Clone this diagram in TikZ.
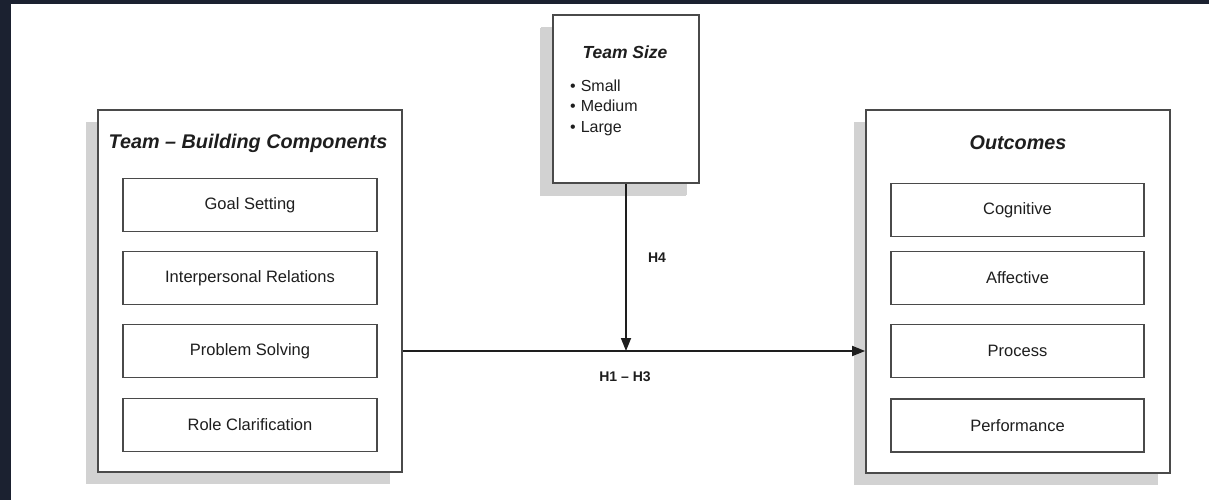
\documentclass[tikz,border=0pt]{standalone}
\usepackage{fontspec}
\setmainfont{Liberation Sans}
\usetikzlibrary{arrows.meta,shadows}
\definecolor{frame}{HTML}{1B2130}
\definecolor{shade}{HTML}{D2D2D2}
\definecolor{edge}{HTML}{4A4A4A}
\definecolor{ink}{HTML}{1E1E1E}
\begin{document}
\begin{tikzpicture}[x=1pt,y=-1pt,
  panel/.style={draw=edge, line width=1.7pt, fill=white, inner sep=0pt,
    drop shadow={shadow xshift=-12pt, shadow yshift=-12pt, fill=shade, opacity=1}},
  itembox/.style={draw=edge, line width=1.6pt, fill=white, inner sep=0pt,
    minimum width=254pt, minimum height=53pt, text=ink,
    font=\fontsize{16.5}{20}\selectfont},
  paneltitle/.style={text=ink, inner sep=0pt, font=\bfseries\itshape\fontsize{19.8}{24}\selectfont},
  bulletitem/.style={anchor=base west, inner sep=0pt, text=ink, font=\fontsize{16}{20}\selectfont},
  conn/.style={draw=ink, line width=1.7pt, -{Triangle[length=13pt,width=10pt]}},
  hlab/.style={text=ink, inner sep=0pt, font=\bfseries\fontsize{14}{16}\selectfont}]
\useasboundingbox (0,0) rectangle (1209,500);
\fill[white] (0,0) rectangle (1209,500);
\fill[frame] (0,0) rectangle (1209,4);
\fill[frame] (0,0) rectangle (11,500);

% left panel
\node[panel, minimum width=304pt, minimum height=362pt] (L) at (250,291) {};
\node[paneltitle] (Lt) at (248,143) {Team – Building Components};
\node[itembox] (gs) at (250,205) {Goal Setting};
\node[itembox] (ir) at (250,278) {Interpersonal Relations};
\node[itembox] (ps) at (250,351) {Problem Solving};
\node[itembox] (rc) at (250,425) {Role Clarification};

% right panel
\node[panel, minimum width=304pt, minimum height=363pt] (R) at (1018,291.5) {};
\node[paneltitle] (Rt) at (1018,143) {Outcomes};
\node[itembox, minimum width=253pt] (cg) at (1017.5,210) {Cognitive};
\node[itembox, minimum width=253pt] (af) at (1017.5,278) {Affective};
\node[itembox, minimum width=253pt] (pr) at (1017.5,351) {Process};
\node[itembox, minimum width=253pt] (pf) at (1017.5,425.5) {Performance};

% team size
\node[panel, minimum width=146pt, minimum height=168pt,
  drop shadow={shadow xshift=-13pt, shadow yshift=-13pt, fill=shade, opacity=1}] (TS) at (626,99) {};
\node[paneltitle, font=\bfseries\itshape\fontsize{17.5}{20}\selectfont] (TSt) at (625,52) {Team Size};
\node[bulletitem] (b1) at (570,92) {\textbullet\hspace{5pt}Small};
\node[bulletitem] (b2) at (570,112) {\textbullet\hspace{5pt}Medium};
\node[bulletitem] (b3) at (570,132) {\textbullet\hspace{5pt}Large};

% connectors
\draw[conn] (ps -| L.east) -- (ps -| R.west);
\draw[conn] (TS.south) -- (TS.south |- ps);
\node[hlab] (h4) at (657,258) {H4};
\node[hlab] (h13) at (625,377) {H1 – H3};
\end{tikzpicture}
\end{document}
